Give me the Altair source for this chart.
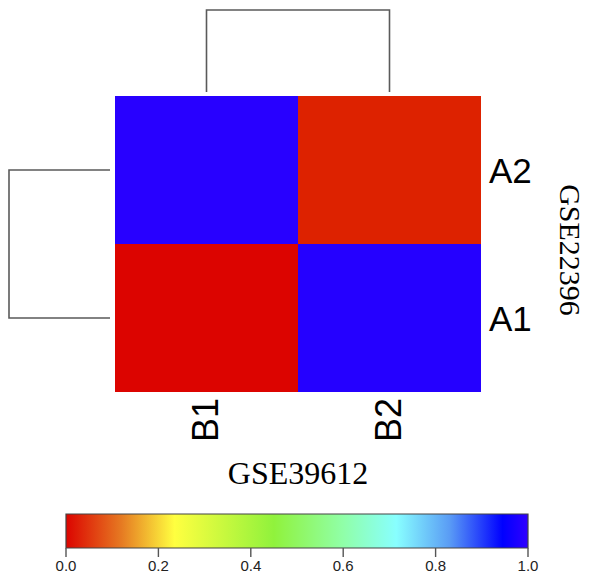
import altair as alt
import pandas as pd

# ---- data ----
cols = ["B1", "B2"]
rows = ["A2", "A1"]
# heatmap values: (row, col, value)
cell_rows = ["A2", "A2", "A1", "A1"]
cell_cols = ["B1", "B2", "B1", "B2"]
cell_vals = [0.985, 0.012, 0.0, 0.98]

col_merge_height = 1.0
row_merge_height = 1.0

cmap_pos = [0.0, 0.12, 0.235, 0.45, 0.6, 0.715, 0.83, 0.945, 1.0]
cmap_hex = ["#dc0400", "#e67a22", "#ffff40", "#90f23c", "#90ffa8",
            "#88ffff", "#5a9cf5", "#0000ff", "#3000ff"]
bar_ticks = [0.0, 0.2, 0.4, 0.6, 0.8, 1.0]

x_title = "GSE39612"
y_title = "GSE22396"

heat_df = pd.DataFrame({"row": cell_rows, "col": cell_cols, "value": cell_vals})

col_dendro = pd.DataFrame({
    "leaf": [cols[0], cols[0], cols[1], cols[1]],
    "h": [0.0, col_merge_height, col_merge_height, 0.0],
    "o": [0, 1, 2, 3],
})
row_dendro = pd.DataFrame({
    "leaf": [rows[0], rows[0], rows[1], rows[1]],
    "h": [0.0, row_merge_height, row_merge_height, 0.0],
    "o": [0, 1, 2, 3],
})

# ---- scales ----
xs = alt.Scale(domain=cols, range=[107, 473], paddingInner=0, paddingOuter=0)
ys = alt.Scale(domain=rows, range=[88, 384], paddingInner=0, paddingOuter=0)
col_h = alt.Scale(domain=[0, col_merge_height], range=[84, 2], zero=False, nice=False)
row_h = alt.Scale(domain=[0, row_merge_height], range=[102, 1], zero=False, nice=False)
bar_x = alt.Scale(domain=[0, 1], range=[58, 520], zero=False, nice=False)
cscale = alt.Scale(domain=cmap_pos, range=cmap_hex, type="linear")

heat = alt.Chart(heat_df).mark_rect().encode(
    x=alt.X("col:N", scale=xs, axis=None),
    y=alt.Y("row:N", scale=ys, axis=None),
    color=alt.Color("value:Q", scale=cscale, legend=None),
)

top_d = alt.Chart(col_dendro).mark_line(color="#5a5a5a", strokeWidth=1.6).encode(
    x=alt.X("leaf:N", scale=xs, axis=None),
    y=alt.Y("h:Q", scale=col_h, axis=None),
    order="o:Q",
)

left_d = alt.Chart(row_dendro).mark_line(color="#5a5a5a", strokeWidth=1.6).encode(
    y=alt.Y("leaf:N", scale=ys, axis=None),
    x=alt.X("h:Q", scale=row_h, axis=None),
    order="o:Q",
)

row_lab = alt.Chart(pd.DataFrame({"row": rows})).mark_text(
    align="left", baseline="middle", fontSize=35, font="Liberation Sans", color="black", dy=2
).encode(
    y=alt.Y("row:N", scale=ys, axis=None),
    x=alt.value(481),
    text="row:N",
)

col_lab = alt.Chart(pd.DataFrame({"col": cols})).mark_text(
    align="right", baseline="middle", angle=270, fontSize=36, font="Liberation Sans", color="black"
).encode(
    x=alt.X("col:N", scale=xs, axis=None),
    y=alt.value(390),
    text="col:N",
)

xt = alt.Chart(pd.DataFrame({"t": [x_title]})).mark_text(
    align="center", baseline="middle", fontSize=32, font="Liberation Serif", color="black"
).encode(x=alt.value(290), y=alt.value(466), text="t:N")

yt = alt.Chart(pd.DataFrame({"t": [y_title]})).mark_text(
    align="center", baseline="alphabetic", angle=90, fontSize=30, font="Liberation Serif", color="black"
).encode(x=alt.value(552), y=alt.value(242), text="t:N")

grad = alt.Gradient(
    gradient="linear",
    stops=[alt.GradientStop(offset=p, color=c) for p, c in zip(cmap_pos, cmap_hex)],
    x1=0, x2=1, y1=0, y2=0,
)
bar = alt.Chart(pd.DataFrame({"lo": [0.0], "hi": [1.0]})).mark_rect(
    fill=grad, stroke="#444444", strokeWidth=1.2
).encode(
    x=alt.X("lo:Q", scale=bar_x, axis=None),
    x2="hi:Q",
    y=alt.value(506),
    y2=alt.value(540),
)

tick_df = pd.DataFrame({"v": bar_ticks})
ticks = alt.Chart(tick_df).mark_rule(color="#555555", strokeWidth=1.4).encode(
    x=alt.X("v:Q", scale=bar_x, axis=None),
    y=alt.value(540),
    y2=alt.value(549),
)
tick_lab = alt.Chart(tick_df).mark_text(
    align="center", baseline="alphabetic", fontSize=15, font="Liberation Sans", color="#222222"
).encode(
    x=alt.X("v:Q", scale=bar_x, axis=None),
    y=alt.value(563),
    text=alt.Text("v:Q", format=".1f"),
)

chart = alt.layer(
    heat, top_d, left_d, row_lab, col_lab, xt, yt, bar, ticks, tick_lab
).resolve_scale(x="independent", y="independent", color="independent").properties(
    width=580, height=567, autosize=alt.AutoSizeParams(type="none"), padding=0
).configure_view(stroke=None)

chart.save("out.html", embed_options={"renderer": "svg", "actions": False})
